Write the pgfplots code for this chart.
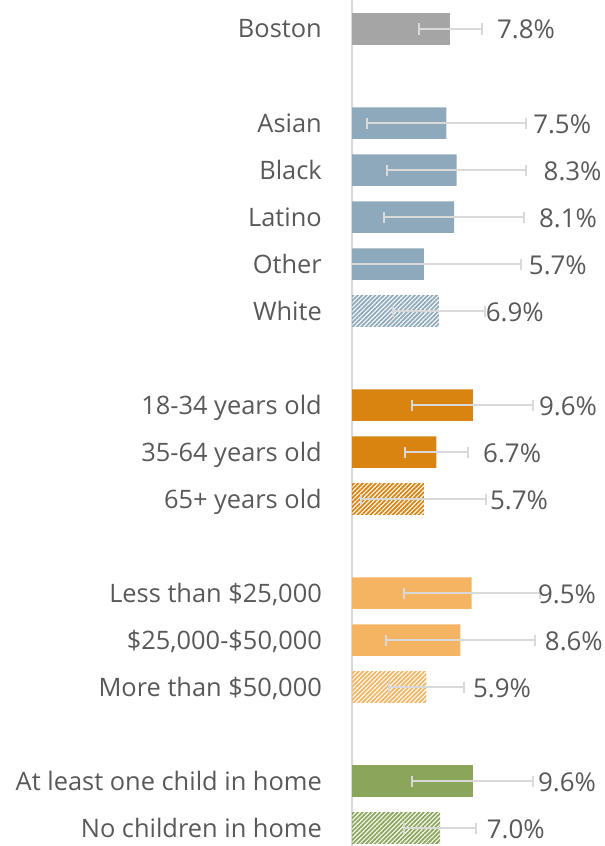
\documentclass[border=0pt]{standalone}
\usepackage{fontspec}
\setmainfont{Open Sans}
\usepackage{pgfplots}
\pgfplotsset{compat=1.18}
\usetikzlibrary{patterns.meta}

\definecolor{bosgray}{HTML}{A5A5A5}
\definecolor{raceblue}{HTML}{8EA9BC}
\definecolor{ageorange}{HTML}{D98411}
\definecolor{incorange}{HTML}{F4B462}
\definecolor{kidgreen}{HTML}{8BA65A}
\definecolor{errgray}{HTML}{D9D9D9}
\definecolor{txtgray}{HTML}{595959}

\pgfplotsset{
    cibar/.style={
        xbar, bar shift=0pt, draw=none,
        error bars/x dir=both, error bars/x explicit,
        error bars/error mark=|,
        error bars/error bar style={draw=errgray, line width=2bp},
        error bars/error mark options={draw=errgray, line width=2bp, mark size=5.5bp},
    },
    hatch/.style={cibar, pattern={Lines[angle=45, distance=3.1bp, line width=1.8bp]}, pattern color=#1},
}

% y = row (0 at top), x = share, ex = half width of the interval
\pgfplotstableread{
y x ex
0 7.8 2.5
}\boston
\pgfplotstableread{
y x ex
2 7.5 6.3
3 8.3 5.5
4 8.1 5.55
5 5.7 7.7
}\race
\pgfplotstableread{
y x ex
6 6.9 3.65
}\racehatch
\pgfplotstableread{
y x ex
8 9.6 4.8
9 6.7 2.5
}\age
\pgfplotstableread{
y x ex
10 5.7 4.95
}\agehatch
\pgfplotstableread{
y x ex
12 9.5 5.4
13 8.6 5.9
}\income
\pgfplotstableread{
y x ex
14 5.9 2.95
}\incomehatch
\pgfplotstableread{
y x ex
16 9.6 4.8
}\kids
\pgfplotstableread{
y x ex
17 7.0 2.87
}\kidshatch

\begin{document}
\begin{tikzpicture}
\path[use as bounding box] (0,0) rectangle (605bp,846bp);
\begin{axis}[
    at={(352bp,0bp)}, anchor=south west,
    scale only axis,
    width=253bp, height=846bp,
    xmin=0, xmax=20.08,
    ymin=-0.617, ymax=17.383,
    y dir=reverse,
    axis x line=none,
    axis y line=left,
    y axis line style={-, draw=errgray, line width=1.5bp},
    ytick={0,2,3,4,5,6,8,9,10,12,13,14,16,17},
    yticklabels={Boston,Asian,Black,Latino,Other,White,
        18-34 years old,35-64 years old,65+ years old,
        {Less than \$25,000},{\$25,000-\$50,000},{More than \$50,000},
        At least one child in home,No children in home},
    major tick length=0pt,
    ytick style={draw=none},
    yticklabel style={anchor=base east, inner sep=0pt, xshift=-30bp, yshift=-9bp,
        font=\fontsize{25.5}{29}\selectfont, text=txtgray},
    bar width=31.5bp,
]
\addplot[cibar, fill=bosgray] table[x=x, y=y, x error=ex] {\boston};
\addplot[cibar, fill=raceblue] table[x=x, y=y, x error=ex] {\race};
\addplot[hatch=raceblue] table[x=x, y=y, x error=ex] {\racehatch};
\addplot[cibar, fill=ageorange] table[x=x, y=y, x error=ex] {\age};
\addplot[hatch=ageorange] table[x=x, y=y, x error=ex] {\agehatch};
\addplot[cibar, fill=incorange] table[x=x, y=y, x error=ex] {\income};
\addplot[hatch=incorange] table[x=x, y=y, x error=ex] {\incomehatch};
\addplot[cibar, fill=kidgreen] table[x=x, y=y, x error=ex] {\kids};
\addplot[hatch=kidgreen] table[x=x, y=y, x error=ex] {\kidshatch};
% value labels
\addplot[only marks, mark=none, nodes near coords,
    point meta=explicit symbolic,
    every node near coord/.append style={anchor=base west, inner sep=0pt, yshift=-10bp,
        font=\fontsize{26}{30}\selectfont, text=txtgray}]
coordinates {
(11.5,0) [7.8\%]
(14.37,2) [7.5\%]
(15.2,3) [8.3\%]
(14.84,4) [8.1\%]
(14.03,5) [5.7\%]
(10.61,6) [6.9\%]
(14.84,8) [9.6\%]
(10.4,9) [6.7\%]
(10.95,10) [5.7\%]
(14.76,12) [9.5\%]
(15.3,13) [8.6\%]
(9.6,14) [5.9\%]
(14.76,16) [9.6\%]
(10.69,17) [7.0\%]
};
\end{axis}
\end{tikzpicture}
\end{document}
